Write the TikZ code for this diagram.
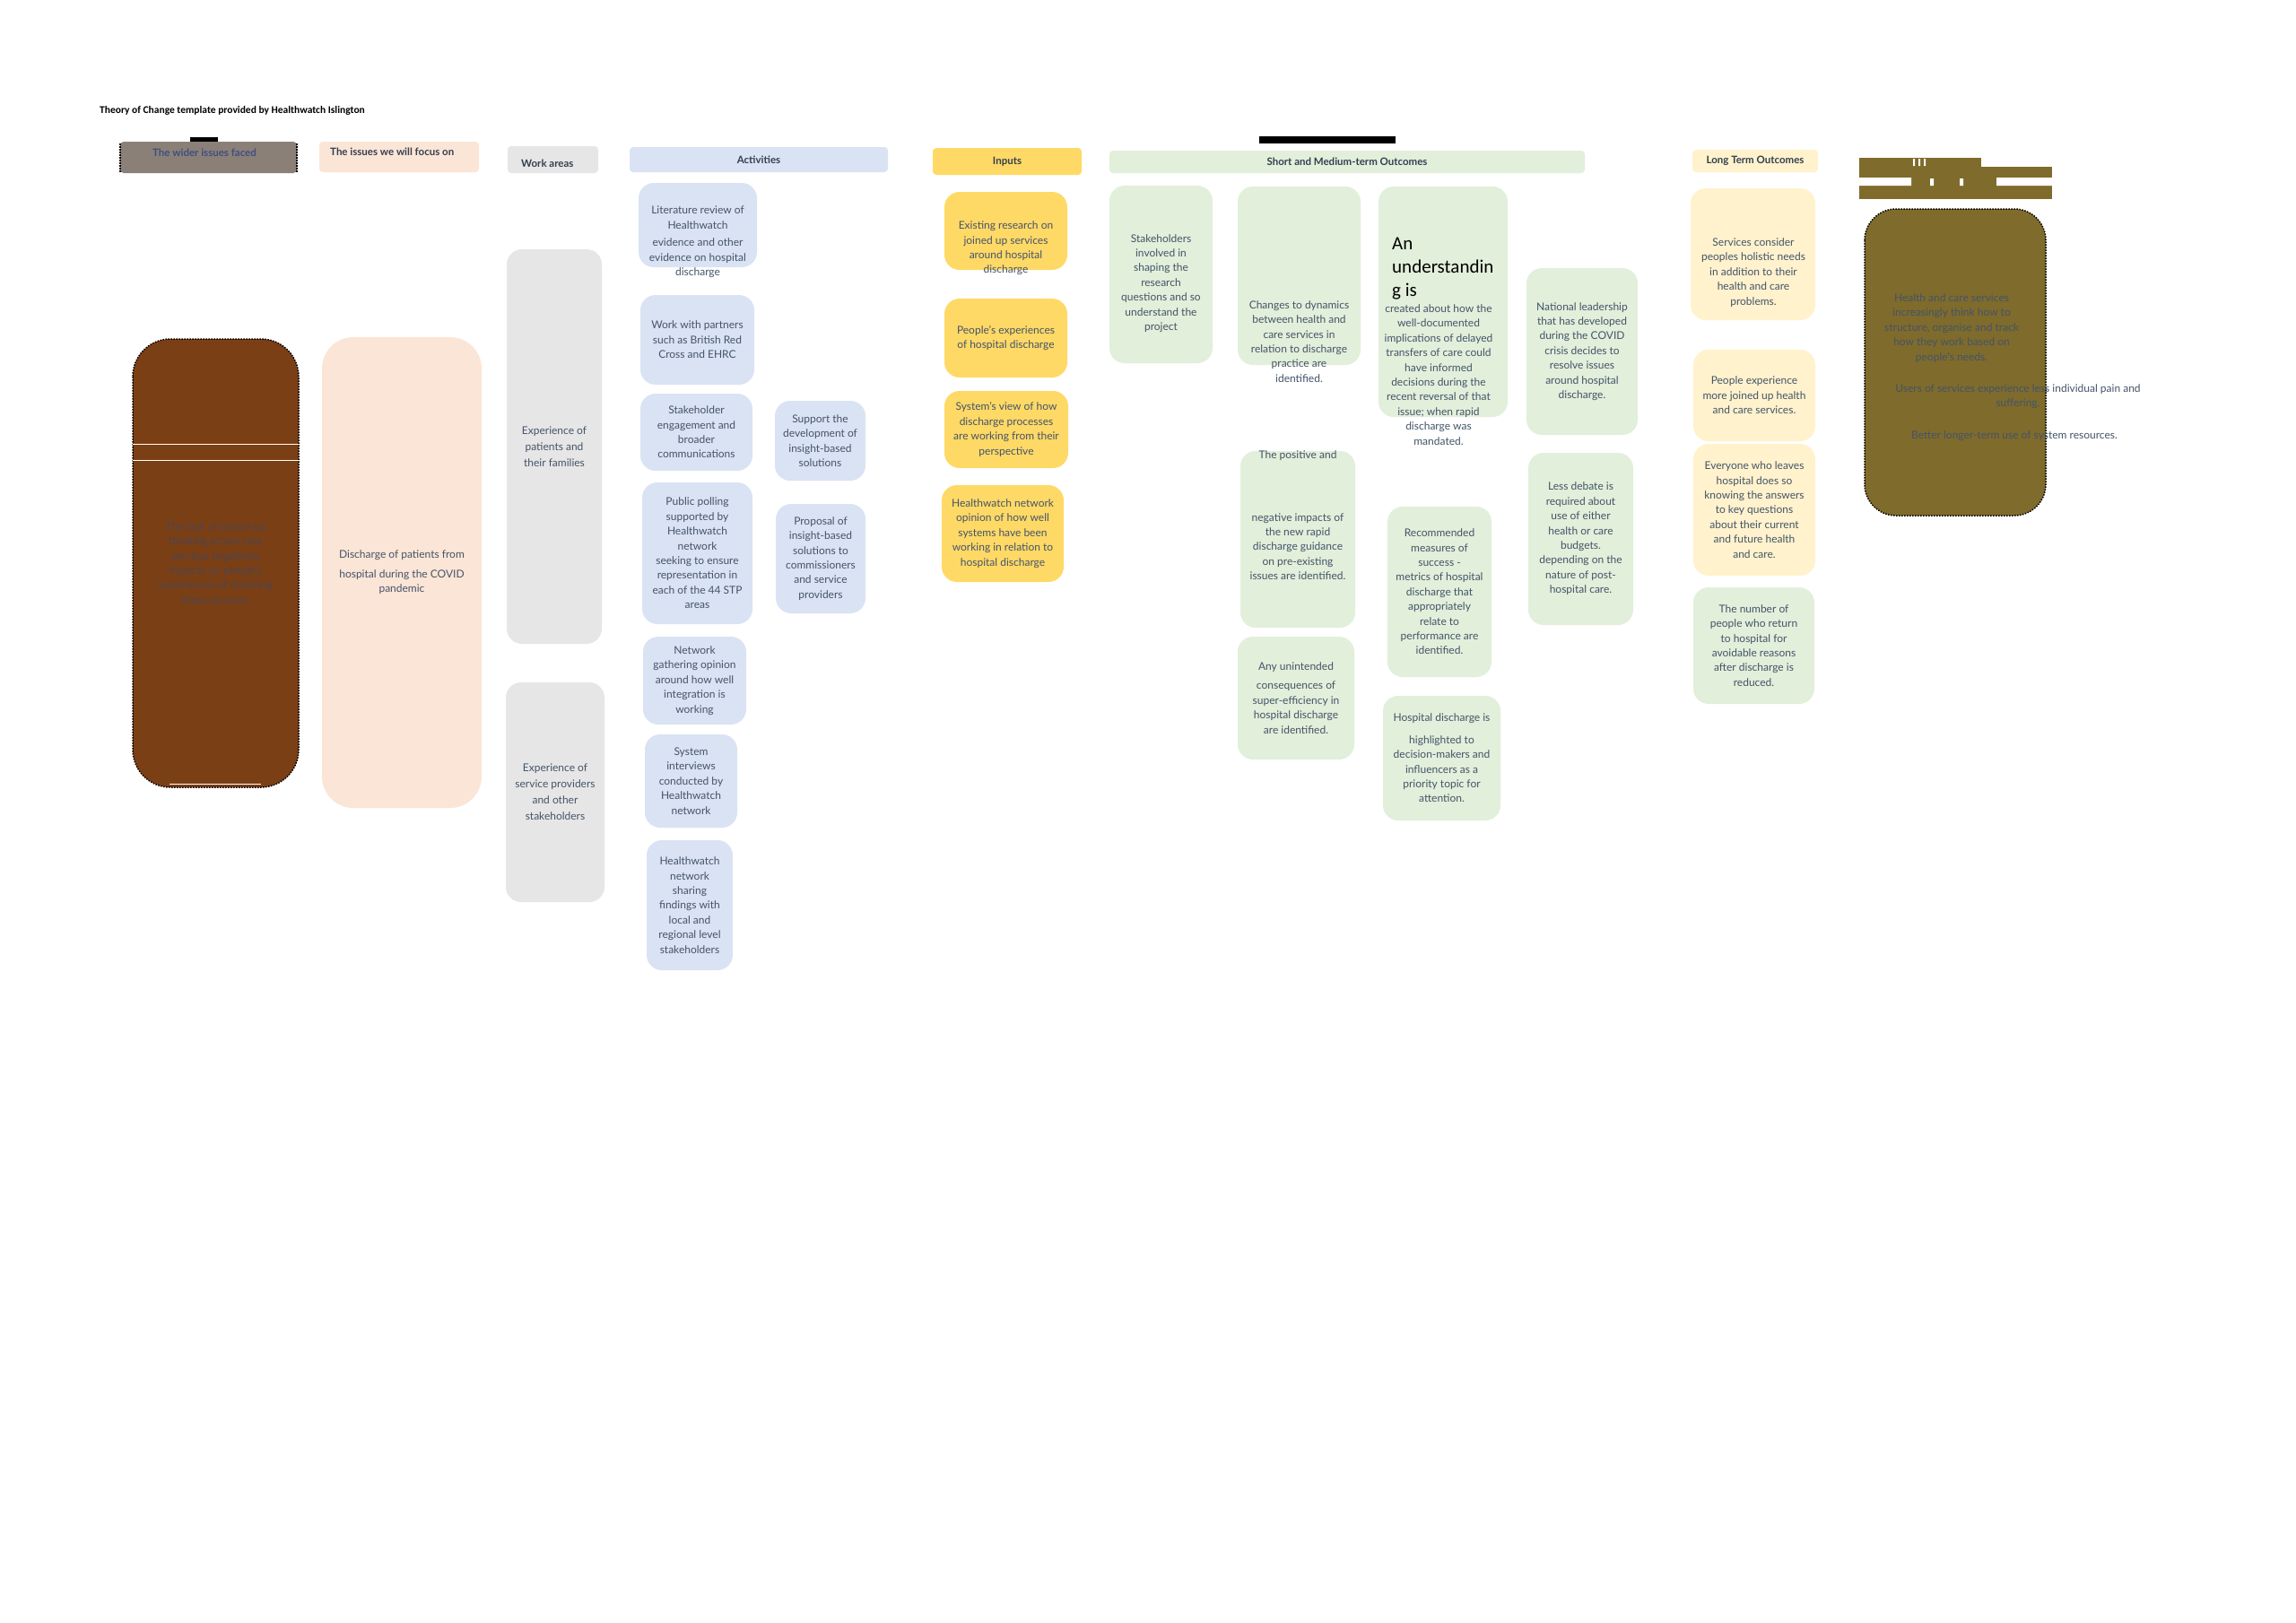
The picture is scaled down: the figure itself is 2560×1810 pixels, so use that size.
\documentclass[tikz,border=0pt]{standalone}
\usepackage{fontspec}
\setmainfont{Lato}
\newfontfamily\calibri{Carlito}
\definecolor{cardtext}{HTML}{44546A}
\definecolor{headtext}{HTML}{333F50}
\definecolor{widergrey}{HTML}{8B8078}
\definecolor{widerblue}{HTML}{3F4D80}
\definecolor{peach}{HTML}{FBE5D6}
\definecolor{workgrey}{HTML}{E7E6E6}
\definecolor{actblue}{HTML}{DAE3F3}
\definecolor{inyellow}{HTML}{FFD966}
\definecolor{outgreen}{HTML}{E2EFDA}
\definecolor{ltyellow}{HTML}{FFF2CC}
\definecolor{rust}{HTML}{7B3F15}
\definecolor{olive}{HTML}{7F6B2B}
\definecolor{mutedtext}{HTML}{4D4650}

\begin{document}
\begin{tikzpicture}
[ x=1pt, y=-1pt
, header/.style={rectangle, rounded corners=4pt, inner sep=0pt, font=\fontsize{11.5}{14}\selectfont\bfseries, text=headtext}
, card/.style={rectangle, rounded corners=17pt, inner sep=0pt, align=center, font=\fontsize{12}{16.4}\selectfont, text=cardtext}
, words/.style={inner sep=0pt, align=center, font=\fontsize{12}{16.4}\selectfont, text=cardtext}
, workarea/.style={card, fill=workgrey, font=\fontsize{12}{18}\selectfont}
, activity/.style={card, fill=actblue}
, input/.style={card, fill=inyellow}
, outcome/.style={card, fill=outgreen}
, longterm/.style={card, fill=ltyellow}
, glitch/.style={draw=black, line width=1.5pt, dash pattern=on 1.5pt off 1.5pt}
]
\fill[white] (0,0) rectangle (2560,1810);
\useasboundingbox (0,0) rectangle (2560,1810);

\node (title) [anchor=west, inner sep=0pt, font=\calibri\fontsize{11.5}{14}\selectfont\bfseries] at (111,123) {Theory of Change template provided by Healthwatch Islington};

% Headers:
\fill[black] (212,153) rectangle (243,161);
\node (widerbar) [header, fill=widergrey, minimum width=197pt, minimum height=35pt] at (232.5,175.5) {};
\draw[glitch] (134,160) -- (134,192) (331,160) -- (331,192);
\node (widerlabel) [header, text=widerblue] at (228,170) {The wider issues faced};
\node (focusbar) [header, fill=peach, minimum width=178pt, minimum height=34pt] at (445,175) {};
\node (focuslabel) [header, anchor=west] at (368,169) {The issues we will focus on};
\node (workbar) [header, fill=workgrey, minimum width=101pt, minimum height=30pt] at (616.5,178) {};
\node (worklabel) [header, anchor=west] at (581,182) {Work areas};
\node (actbar) [header, fill=actblue, minimum width=288pt, minimum height=28pt] at (846,178) {Activities};
\node (inbar) [header, fill=inyellow, minimum width=166pt, minimum height=30pt] at (1123,180) {Inputs};
\fill[black] (1404,152) rectangle (1556,160);
\node (outbar) [header, fill=outgreen, minimum width=530pt, minimum height=25pt] at (1502,180.5) {Short and Medium-term Outcomes};
\node (longbar) [header, fill=ltyellow, minimum width=140pt, minimum height=25pt] at (1957,179.5) {Long Term Outcomes};
\fill[olive] (2073,176) rectangle (2209,186);
\fill[olive] (2073,186) rectangle (2288,222);
\fill[white] (2073,198) rectangle (2131,207) (2226,198) rectangle (2288,207);
\fill[white] (2152,199) rectangle (2156,207) (2185,199) rectangle (2189,207);
\fill[white] (2133,177) rectangle (2135,185) (2139,177) rectangle (2141,185) (2145,177) rectangle (2147,185);

% Wider issues and focus:
\node (wider) [card, fill=rust, rounded corners=42pt, minimum width=185pt, minimum height=500pt, text=mutedtext] at (240.5,628) {The lack of joined-up\\thinking across care\\services negatively\\impacts on people's\\experiences of receiving\\these services.};
\draw[glitch, rounded corners=42pt] (148,378) rectangle (333,878);
\draw[white, line width=1pt] (148,495) -- (333,495) (148,513) -- (333,513) (189,874) -- (291,874);
\node (focus) [card, fill=peach, rounded corners=35pt, minimum width=178pt, minimum height=525pt] at (448,638.5) {Discharge of patients from\\[5pt]hospital during the COVID\\pandemic};

% Work areas:
\node (work1) [workarea, minimum width=106pt, minimum height=440pt] at (618,498) {Experience of\\patients and\\their families};
\node (work2) [workarea, minimum width=110pt, minimum height=245pt] at (619,883.5) {Experience of\\service providers\\and other\\stakeholders};

% Activities:
\node (act1) [activity, minimum width=132pt, minimum height=94pt] at (778,251) {};
\node (act1text) [words] at (778,270) {Literature review of\\Healthwatch\\[3pt]evidence and other\\evidence on hospital\\discharge};
\node (act2) [activity, minimum width=127pt, minimum height=100pt] at (777.5,379) {Work with partners\\such as British Red\\Cross and EHRC};
\node (act3) [activity, minimum width=125pt, minimum height=86pt] at (776.5,482) {Stakeholder\\engagement and\\broader\\communications};
\node (act4) [activity, minimum width=123pt, minimum height=158pt] at (777.5,617) {Public polling\\supported by\\Healthwatch\\network\\seeking to ensure\\representation in\\each of the 44 STP\\areas};
\node (act5) [activity, minimum width=115pt, minimum height=98pt] at (774.5,759) {Network\\gathering opinion\\around how well\\integration is\\working};
\node (act6) [activity, minimum width=103pt, minimum height=104pt] at (770.5,871) {System\\interviews\\conducted by\\Healthwatch\\network};
\node (act7) [activity, minimum width=96pt, minimum height=145pt] at (769,1009.5) {Healthwatch\\network\\sharing\\findings with\\local and\\regional level\\stakeholders};
\node (act8) [activity, minimum width=101pt, minimum height=89pt] at (914.5,491.5) {Support the\\development of\\insight-based\\solutions};
\node (act9) [activity, minimum width=100pt, minimum height=122pt] at (915,623) {Proposal of\\insight-based\\solutions to\\commissioners\\and service\\providers};

% Inputs:
\node (in1) [input, minimum width=137pt, minimum height=87pt] at (1121.5,257.5) {};
\node (in1text) [words] at (1121.5,277) {Existing research on\\joined up services\\around hospital\\discharge};
\node (in2) [input, minimum width=137pt, minimum height=88pt] at (1121.5,377) {People's experiences\\of hospital discharge};
\node (in3) [input, minimum width=138pt, minimum height=86pt] at (1122,479) {System's view of how\\discharge processes\\are working from their\\perspective};
\node (in4) [input, minimum width=136pt, minimum height=108pt] at (1118,595) {Healthwatch network\\opinion of how well\\systems have been\\working in relation to\\hospital discharge};

% Short and medium-term outcomes:
\node (out1) [outcome, minimum width=115pt, minimum height=198pt] at (1294.5,306) {};
\node (out1text) [words] at (1294.5,316) {Stakeholders\\involved in\\shaping the\\research\\questions and so\\understand the\\project};
\node (out2) [outcome, minimum width=137pt, minimum height=199pt] at (1448.5,307.5) {};
\node (out2text) [words] at (1448.5,381) {Changes to dynamics\\between health and\\care services in\\relation to discharge\\practice are\\identified.};
\node (out3) [outcome, minimum width=144pt, minimum height=257pt] at (1609,336.5) {};
\node (out3big) [anchor=west, inner sep=0pt, align=left, font=\calibri\fontsize{21}{26}\selectfont] at (1552,300) {An\\understandin\\g is};
\node (out3text) [words] at (1604,418) {created about how the\\well-documented\\implications of delayed\\transfers of care could\\have informed\\decisions during the\\recent reversal of that\\issue; when rapid\\discharge was\\mandated.};
\node (out4) [outcome, minimum width=124pt, minimum height=186pt] at (1764,392) {National leadership\\that has developed\\during the COVID\\crisis decides to\\resolve issues\\around hospital\\discharge.};
\node (out5) [outcome, minimum width=128pt, minimum height=197pt] at (1447,601.5) {};
\node (out5top) [words] at (1447,508) {The positive and};
\node (out5text) [words] at (1447,609.5) {negative impacts of\\the new rapid\\discharge guidance\\on pre-existing\\issues are identified.};
\node (out6) [outcome, minimum width=130pt, minimum height=137pt] at (1445,778.5) {Any unintended\\[5pt]consequences of\\super-efficiency in\\hospital discharge\\are identified.};
\node (out7) [outcome, minimum width=116pt, minimum height=190pt] at (1605,660) {Recommended\\measures of\\success -\\metrics of hospital\\discharge that\\appropriately\\relate to\\performance are\\identified.};
\node (out8) [outcome, minimum width=131pt, minimum height=139pt] at (1607.5,845.5) {Hospital discharge is\\[8pt]highlighted to\\decision-makers and\\influencers as a\\priority topic for\\attention.};
\node (out9) [outcome, minimum width=117pt, minimum height=192pt] at (1762.5,601) {Less debate is\\required about\\use of either\\health or care\\budgets.\\depending on the\\nature of post-\\hospital care.};

% Long term outcomes:
\node (long1) [longterm, minimum width=139pt, minimum height=147pt] at (1954.5,283.5) {};
\node (long1text) [words] at (1955,304) {Services consider\\peoples holistic needs\\in addition to their\\health and care\\problems.};
\node (long2) [longterm, minimum width=136pt, minimum height=102pt] at (1956,441) {People experience\\more joined up health\\and care services.};
\node (long3) [longterm, minimum width=136pt, minimum height=147pt] at (1956,568.5) {Everyone who leaves\\hospital does so\\knowing the answers\\to key questions\\about their current\\and future health\\and care.};
\node (long4) [outcome, minimum width=135pt, minimum height=130pt] at (1955.5,720) {The number of\\people who return\\to hospital for\\avoidable reasons\\after discharge is\\reduced.};

% Impact:
\node (impact) [card, fill=olive, rounded corners=35pt, minimum width=202pt, minimum height=342pt] at (2180,404) {};
\draw[glitch, rounded corners=35pt] (2079,233) rectangle (2281,575);
\node (impact1) [words] at (2176,366) {Health and care services\\increasingly think how to\\structure, organise and track\\how they work based on\\people's needs.};
\node (impact2) [words] at (2250,442) {Users of services experience less individual pain and\\suffering.};
\node (impact3) [words] at (2246,486) {Better longer-term use of system resources.};
\end{tikzpicture}
\end{document}
